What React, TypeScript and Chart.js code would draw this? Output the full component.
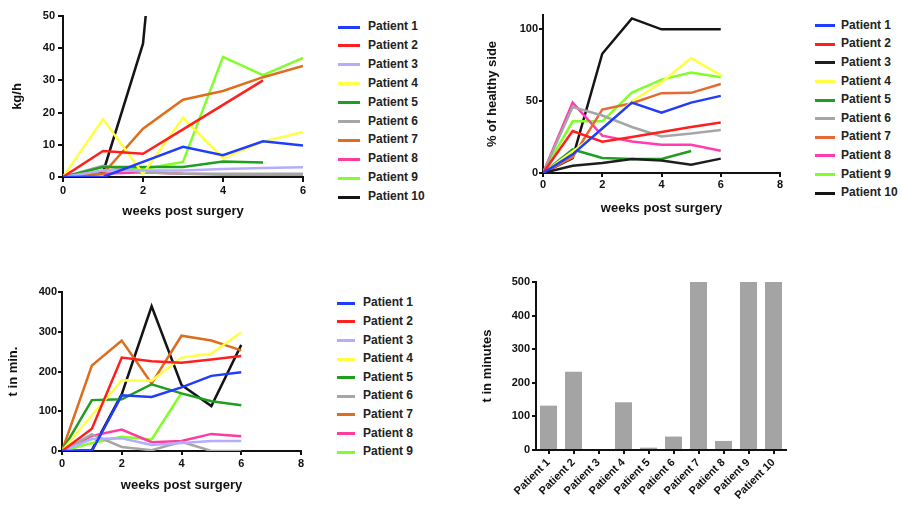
import React, { useEffect, useRef } from 'react';
import { Chart, registerables } from 'chart.js';

Chart.register(...registerables);

const FONT = "'Liberation Sans', Arial, Helvetica, sans-serif";

const weeks = [0, 1, 2, 3, 4, 5, 6];
const patients = ['Patient 1', 'Patient 2', 'Patient 3', 'Patient 4', 'Patient 5', 'Patient 6', 'Patient 7', 'Patient 8', 'Patient 9', 'Patient 10'];

// Panel A: kg/h
const kgPerHour: (number | null)[][] = [
  [0, 0, 4.7, 9.4, 6.8, 11.1, 9.8],
  [0, 8.1, 7.2, 14.8, 22.4, 30, null],
  [0, 2, 2, 2, 2.5, 2.8, 3],
  [0, 18, 1, 18.4, 5.8, 11, 14],
  [0, 3.1, 3.1, 3.1, 4.8, 4.5, null],
  [0, 3.5, 1.5, 1, 1, 1, 1],
  [0, 1, 15, 24, 26.7, 31, 34.5],
  [0, 1, 1.5, 1, 0.8, 0.8, 0.8],
  [0, 2, 2.5, 4.7, 37.3, 31.6, 37],
  [0, 1.4, 41.4, 170, null, null, null],
];

// Panel B: % of healthy side
const healthySide: (number | null)[][] = [
  [0, 13, 31, 49, 42, 49, 53.7],
  [0, 29.2, 21.8, 25, 28.5, 32, 35.2],
  [0, 5, 7, 9.8, 8.7, 5.8, 10],
  [0, 15, 30, 50, 63, 80, 68],
  [0, 16.4, 10.4, 9.8, 9.8, 15.3, null],
  [0, 46, 40, 32, 25.5, 27.5, 30],
  [0, 11, 44.2, 48.6, 55.6, 55.8, 62],
  [0, 49, 26, 22, 19.7, 19.7, 15.5],
  [0, 36, 36, 56, 65, 70, 66.7],
  [0, 10.4, 83, 107.6, 100, 100, 100],
];

// Panel C: t in min.
const timeMin: (number | null)[][] = [
  [0, 0, 140, 136, 160, 189, 198],
  [0, 56, 235, 226, 222, 230, 239],
  [0, 30, 32, 15, 20, 25, 25],
  [0, 90, 178, 177, 235, 245, 299],
  [0, 128, 130, 168, 145, 125, 115],
  [0, 42, 10, 2, 23, 0, 0],
  [0, 215, 278, 170, 290, 278, 253],
  [0, 38, 54, 22, 25, 43, 37],
  [0, 20, 36, 29, 146, null, null],
  [0, 2, 143, 364, 166, 113, 267],
];

// Panel D: t in minutes (bars)
const timeMinutesBars = [132, 233, 0, 142, 7, 40, 500, 27, 500, 500];

const colorsA = ['#1f3cff', '#ff1f1f', '#b4acff', '#ffff45', '#1f9e1f', '#a6a6a6', '#de6e1e', '#ff3c9e', '#80ff2a', '#141414'];
const colorsB = ['#1f3cff', '#ff1f1f', '#1e1e1e', '#ffff45', '#1f9e1f', '#a6a6a6', '#e56a35', '#ff3cb0', '#80ff2a', '#141414'];

const tickFont = { family: FONT, size: 11, weight: 'bold' as const };
const titleFont = { family: FONT, size: 13, weight: 'bold' as const };

function zeroPad(s: any) {
  s.paddingLeft = 0;
  s.paddingRight = 0;
  s.paddingTop = 0;
  s.paddingBottom = 0;
}

interface Lay {
  top: number; right: number; yw: number; xh: number;
  yTitlePad: number; xTitlePad: number;
  yTick: number; yPad: number; xTick: number; xPad: number;
}

function lineConfig(values: (number | null)[][], colors: string[], xMax: number, yMax: number, yStep: number, yTitle: string, L: Lay): any {
  return {
    type: 'line',
    data: {
      datasets: values.map((vals, i) => ({
        label: patients[i],
        data: weeks.map((w, j) => ({ x: w, y: vals[j] })),
        borderColor: colors[i],
        backgroundColor: colors[i],
        borderWidth: 2.5,
        pointRadius: 0,
        tension: 0,
        fill: false,
      })),
    },
    options: {
      responsive: false,
      animation: false,
      events: [],
      layout: { padding: { left: 0, top: L.top, right: L.right, bottom: 0 } },
      plugins: { legend: { display: false }, tooltip: { enabled: false } },
      scales: {
        x: {
          type: 'linear', min: 0, max: xMax,
          ticks: { stepSize: 2, font: tickFont, color: '#111', padding: L.xPad, includeBounds: false },
          grid: { drawOnChartArea: false, drawTicks: true, tickLength: L.xTick, color: '#111', lineWidth: 2 },
          border: { color: '#111', width: 2 },
          title: { display: true, text: 'weeks post surgery', font: titleFont, color: '#111', padding: { top: 0, bottom: L.xTitlePad } },
          afterFit: (s: any) => { s.height = L.xh; zeroPad(s); },
        },
        y: {
          type: 'linear', min: 0, max: yMax,
          ticks: { stepSize: yStep, font: tickFont, color: '#111', padding: L.yPad, includeBounds: false },
          grid: { drawOnChartArea: false, drawTicks: true, tickLength: L.yTick, color: '#111', lineWidth: 2 },
          border: { color: '#111', width: 2 },
          title: { display: true, text: yTitle, font: titleFont, color: '#111', padding: { top: L.yTitlePad, bottom: 0 } },
          afterFit: (s: any) => { s.width = L.yw; zeroPad(s); },
        },
      },
    },
  };
}

function barConfig(): any {
  return {
    type: 'bar',
    data: {
      labels: patients,
      datasets: [{
        data: timeMinutesBars,
        backgroundColor: '#a4a4a4',
        borderWidth: 0,
        barPercentage: 0.68,
        categoryPercentage: 1,
      }],
    },
    options: {
      responsive: false,
      animation: false,
      events: [],
      layout: { padding: { left: 0, top: 12, right: 14, bottom: 0 } },
      plugins: { legend: { display: false }, tooltip: { enabled: false } },
      scales: {
        x: {
          ticks: { font: tickFont, color: '#111', padding: 2, autoSkip: false, minRotation: 45, maxRotation: 45 },
          grid: { offset: false, drawOnChartArea: false, drawTicks: true, tickLength: 4, color: '#111', lineWidth: 2 },
          border: { color: '#111', width: 2 },
          afterFit: (s: any) => { s.height = 59; zeroPad(s); },
        },
        y: {
          min: 0, max: 500,
          ticks: { stepSize: 100, font: tickFont, color: '#111', padding: 2 },
          grid: { drawOnChartArea: false, drawTicks: true, tickLength: 4, color: '#111', lineWidth: 2 },
          border: { color: '#111', width: 2 },
          title: { display: true, text: 't in minutes', font: titleFont, color: '#111', padding: { top: 10, bottom: 0 } },
          afterFit: (s: any) => { s.width = 66; zeroPad(s); },
        },
      },
    },
  };
}

function Legend(props: { lineLeft: number; lineW: number; textLeft: number; y0: number; gap: number; colors: string[]; count: number }) {
  const rows = [];
  for (let i = 0; i < props.count; i++) {
    const y = props.y0 + i * props.gap;
    rows.push(
      <div key={i}>
        <div style={{ position: 'absolute', left: props.lineLeft, top: y - 1.5, width: props.lineW, height: 3, background: props.colors[i] }} />
        <div style={{ position: 'absolute', left: props.textLeft, top: y - 8, height: 16, lineHeight: '16px', font: `bold 12px ${FONT}`, color: '#222', whiteSpace: 'nowrap' }}>
          {patients[i]}
        </div>
      </div>
    );
  }
  return <>{rows}</>;
}

export default function App() {
  const r1 = useRef<HTMLCanvasElement>(null);
  const r2 = useRef<HTMLCanvasElement>(null);
  const r3 = useRef<HTMLCanvasElement>(null);
  const r4 = useRef<HTMLCanvasElement>(null);

  useEffect(() => {
    Chart.defaults.font.family = FONT;
    const charts: Chart[] = [];
    charts.push(new Chart(r1.current!, lineConfig(kgPerHour, colorsA, 6, 50, 10, 'kg/h',
      { top: 16, right: 17, yw: 63, xh: 48, yTitlePad: 10, xTitlePad: 6, yTick: 5, yPad: 3, xTick: 5, xPad: 2 })));
    charts.push(new Chart(r2.current!, lineConfig(healthySide, colorsB, 8, 110, 50, '% of healthy side',
      { top: 15, right: 10, yw: 73, xh: 52, yTitlePad: 15, xTitlePad: 9, yTick: 4, yPad: 1, xTick: 4, xPad: 1.5 })));
    charts.push(new Chart(r3.current!, lineConfig(timeMin, colorsA, 8, 400, 100, 't in min.',
      { top: 12, right: 19, yw: 62, xh: 49, yTitlePad: 6, xTitlePad: 7, yTick: 4, yPad: 1, xTick: 4, xPad: 2.4 })));
    charts.push(new Chart(r4.current!, barConfig()));
    return () => { charts.forEach((c) => c.destroy()); };
  }, []);

  return (
    <div style={{ position: 'absolute', left: 0, top: 0, width: 902, height: 509, overflow: 'hidden', background: '#fff' }}>
      <canvas ref={r1} width={320} height={225} style={{ position: 'absolute', left: 0, top: 0 }} />
      <canvas ref={r2} width={320} height={225} style={{ position: 'absolute', left: 470, top: 0 }} />
      <canvas ref={r3} width={320} height={220} style={{ position: 'absolute', left: 0, top: 280 }} />
      <canvas ref={r4} width={330} height={239} style={{ position: 'absolute', left: 470, top: 270 }} />
      <Legend lineLeft={338} lineW={22} textLeft={368} y0={27} gap={18.9} colors={colorsA} count={10} />
      <Legend lineLeft={815} lineW={20} textLeft={841} y0={25.7} gap={18.6} colors={colorsB} count={10} />
      <Legend lineLeft={337} lineW={18} textLeft={363} y0={303.3} gap={18.6} colors={colorsA} count={9} />
    </div>
  );
}
